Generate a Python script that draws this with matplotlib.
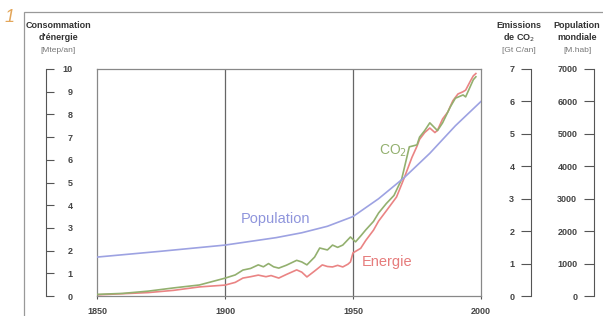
import matplotlib.pyplot as plt
from matplotlib.patches import Rectangle

plt.rcParams['font.family'] = ['Liberation Sans', 'DejaVu Sans']

# energy consumption (left scale)
energy_years = [1850, 1860, 1870, 1880, 1890, 1900, 1904, 1907, 1910, 1913, 1916, 1918,
                1921, 1924, 1928, 1930, 1932, 1935, 1938, 1940, 1942, 1944, 1946, 1948,
                1949, 1950, 1953, 1955, 1958, 1960, 1963, 1967, 1970, 1973, 1975, 1976,
                1978, 1980, 1982, 1983, 1985, 1987, 1989, 1991, 1993, 1994, 1996, 1997, 1998]
energy = [0.05, 0.1, 0.15, 0.25, 0.4, 0.48, 0.6, 0.79, 0.85, 0.92, 0.85, 0.9,
          0.79, 0.95, 1.15, 1.05, 0.84, 1.1, 1.37, 1.3, 1.28, 1.35, 1.28, 1.4,
          1.5, 1.9, 2.1, 2.45, 2.9, 3.3, 3.75, 4.36, 5.2, 6.1, 6.6, 6.9,
          7.2, 7.4, 7.2, 7.3, 7.8, 8.1, 8.6, 8.9, 9.0, 9.07, 9.5, 9.7, 9.8]

# CO2 emissions (middle right scale)
co2_years = [1850, 1860, 1870, 1880, 1890, 1900, 1904, 1907, 1910, 1913, 1915, 1917,
             1919, 1921, 1924, 1928, 1930, 1932, 1935, 1937, 1940, 1942, 1944, 1946,
             1949, 1951, 1953, 1955, 1958, 1960, 1963, 1966, 1969, 1972, 1975, 1976,
             1978, 1980, 1983, 1985, 1988, 1990, 1993, 1994, 1997, 1998]
co2 = [0.05, 0.08, 0.15, 0.25, 0.34, 0.55, 0.65, 0.8, 0.85, 0.96, 0.9, 1.0,
       0.9, 0.86, 0.95, 1.1, 1.05, 0.96, 1.2, 1.48, 1.42, 1.57, 1.5, 1.57,
       1.82, 1.67, 1.85, 2.04, 2.3, 2.56, 2.85, 3.1, 3.6, 4.6, 4.66, 4.9,
       5.1, 5.34, 5.1, 5.34, 5.83, 6.1, 6.2, 6.14, 6.67, 6.76]

# world population (far right scale)
pop_years = [1850, 1875, 1900, 1920, 1930, 1940, 1950, 1960, 1970, 1980, 1990, 2000]
population = [1200, 1380, 1570, 1800, 1950, 2150, 2450, 3000, 3650, 4400, 5250, 6000]

x_ticks = [1850, 1900, 1950, 2000]

blue = '#9da2e2'
green = '#93b06f'
red = '#ea8484'
dark = '#555555'

fig = plt.figure(figsize=(6.03, 3.16), dpi=100)
L, W = 97 / 603, 384 / 603
B, H = 1 - 296 / 316, 227 / 316
ax = fig.add_axes([L, B, W, H])
ax.set_xlim(1850, 2000)
ax.set_ylim(0, 10)
ax.set_yticks([])
ax.set_xticks(x_ticks)
ax.tick_params(axis='x', length=2, color=dark, pad=6, labelsize=6.5, labelcolor='#444444')
for t in ax.get_xticklabels():
    t.set_fontweight('bold')
for s in ax.spines.values():
    s.set_color('#888888')
    s.set_linewidth(0.9)
for xv in [1900, 1950]:
    ax.axvline(xv, color='#666666', lw=0.9)

ax.plot(energy_years, energy, color=red, lw=1.2)

# energy axis, bracket on the left
ax_e = ax.twinx()
ax_e.set_ylim(0, 10)
ax_e.set_yticks(range(0, 11))
for s in ['left', 'top', 'bottom']:
    ax_e.spines[s].set_visible(False)
ax_e.spines['right'].set_position(('axes', (46 - 97) / 384))
ax_e.spines['right'].set_color(dark)
ax_e.spines['right'].set_bounds(0, 10)
ax_e.tick_params(axis='y', direction='out', length=5.5, color=dark, pad=13.5,
                 labelsize=6.5, labelcolor='#444444')
for t in ax_e.get_yticklabels():
    t.set_horizontalalignment('right')
    t.set_fontweight('bold')

# CO2 axis
ax_c = ax.twinx()
ax_c.set_ylim(0, 7)
ax_c.set_yticks(range(0, 8))
for s in ['right', 'top', 'bottom']:
    ax_c.spines[s].set_visible(False)
ax_c.yaxis.tick_left()
ax_c.spines['left'].set_position(('axes', (531 - 97) / 384))
ax_c.spines['left'].set_color(dark)
ax_c.tick_params(axis='y', direction='out', length=7, color=dark, pad=5,
                 labelsize=6.5, labelcolor='#444444')
for t in ax_c.get_yticklabels():
    t.set_fontweight('bold')
ax_c.plot(co2_years, co2, color=green, lw=1.2)

# population axis
ax_p = ax.twinx()
ax_p.set_ylim(0, 7000)
ax_p.set_yticks(range(0, 7001, 1000))
for s in ['right', 'top', 'bottom']:
    ax_p.spines[s].set_visible(False)
ax_p.yaxis.tick_left()
ax_p.spines['left'].set_position(('axes', (594 - 97) / 384))
ax_p.spines['left'].set_color(dark)
ax_p.tick_params(axis='y', direction='out', length=7, color=dark, pad=5,
                 labelsize=6.5, labelcolor='#444444')
for t in ax_p.get_yticklabels():
    t.set_fontweight('bold')
ax_p.plot(pop_years, population, color=blue, lw=1.2)

# curve labels
ax.text(1906, 3.4, 'Population', color='#8f95dc', fontsize=10.5, va='center')
ax.text(1953.5, 1.5, 'Energie', color='#e67c7c', fontsize=10.5, va='center')
ax.text(1960, 6.4, 'CO$_2$', color=green, fontsize=10, va='center')

# axis titles
def title(x, lines, sub):
    fig.text(x / 603, 1 - 26 / 316, lines[0], ha='center', va='center',
             fontsize=6.5, fontweight='bold', color='#333333')
    fig.text(x / 603, 1 - 38 / 316, lines[1], ha='center', va='center',
             fontsize=6.5, fontweight='bold', color='#333333')
    fig.text(x / 603, 1 - 51 / 316, sub, ha='center', va='center',
             fontsize=6, color='#777777')

title(58, ['Consommation', "d'énergie"], '[Mtep/an]')
title(519, ['Emissions', 'de CO$_2$'], '[Gt C/an]')
title(577, ['Population', 'mondiale'], '[M.hab]')

# outer frame and figure number
fig.add_artist(Rectangle((24 / 603, -0.1), 1, 1.1 - 12 / 316, transform=fig.transFigure,
                         fill=False, ec='#999999', lw=0.9))
fig.text(10 / 603, 1 - 18 / 316, '1', fontsize=13, style='italic', color='#e3a65a',
         ha='center', va='center')

fig.savefig('out.png', dpi=100)
